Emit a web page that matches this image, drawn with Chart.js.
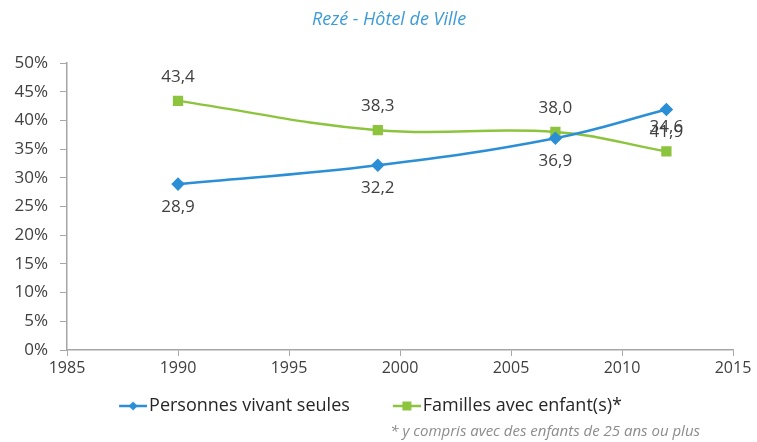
<!DOCTYPE html>
<html>
<head>
<meta charset="utf-8">
<script src="https://cdn.jsdelivr.net/npm/chart.js@4"></script>
<style>
  html, body { margin: 0; padding: 0; background: #fff; }
  #wrap { width: 757px; height: 442px; position: relative; }
</style>
</head>
<body>
<div id="wrap"><canvas id="chart"></canvas></div>
<script>
const years = [1990, 1999, 2007, 2012];
const seules = [28.9, 32.2, 36.9, 41.9];
const familles = [43.4, 38.3, 38.0, 34.6];
const seriesNames = ['Personnes vivant seules', 'Familles avec enfant(s)*'];
const chartTitle = 'Rezé - Hôtel de Ville';
const footnote = '* y compris avec des enfants de 25 ans ou plus';

const BLUE = '#2b8fd6';
const GREEN = '#8dc43e';
const FONT = "'Open Sans', sans-serif";
const LEGEND_BOX = 47;

// legend icon: line with the marker, blank on the left so items sit further apart
function legendIcon(color, shape) {
  const c = document.createElement('canvas');
  c.width = LEGEND_BOX + 14; c.height = 12;
  const ctx = c.getContext('2d');
  const x0 = c.width - 28;
  ctx.strokeStyle = color;
  ctx.lineWidth = 2.5;
  ctx.beginPath(); ctx.moveTo(x0, 6); ctx.lineTo(c.width, 6); ctx.stroke();
  ctx.fillStyle = color;
  ctx.beginPath();
  const cx = x0 + 14;
  if (shape === 'diamond') {
    ctx.moveTo(cx, 1.5); ctx.lineTo(cx + 4.5, 6); ctx.lineTo(cx, 10.5); ctx.lineTo(cx - 4.5, 6);
  } else {
    ctx.rect(cx - 4.5, 1.5, 9, 9);
  }
  ctx.closePath(); ctx.fill();
  return c;
}

const valueLabels = {
  id: 'valueLabels',
  afterDatasetsDraw(chart) {
    const ctx = chart.ctx;
    ctx.save();
    ctx.font = '17px ' + FONT;
    ctx.fillStyle = '#404040';
    ctx.textAlign = 'center';
    ctx.textBaseline = 'middle';
    chart.data.datasets.forEach((ds, i) => {
      const meta = chart.getDatasetMeta(i);
      meta.data.forEach((pt, j) => {
        const off = i === 0 ? 23 : -24;
        ctx.fillText(ds.data[j].y.toFixed(1).replace('.', ','), pt.x, pt.y + off);
      });
    });
    ctx.restore();
  }
};

const texts = {
  id: 'texts',
  afterLayout(chart) {
    // legend sits a little left of centre in the original
    chart.legend.left -= 9;
    chart.legend.right -= 9;
  },
  afterDraw(chart) {
    const ctx = chart.ctx;
    ctx.save();
    ctx.textBaseline = 'middle';
    ctx.font = 'italic 18px ' + FONT;
    ctx.fillStyle = '#3b9bd8';
    ctx.textAlign = 'center';
    ctx.fillText(chartTitle, 389, 20);
    ctx.font = 'italic 15px ' + FONT;
    ctx.fillStyle = '#8c8c8c';
    ctx.textAlign = 'right';
    ctx.fillText(footnote, 700, 432);
    ctx.restore();
  }
};

new Chart(document.getElementById('chart'), {
  type: 'line',
  data: {
    datasets: [
      {
        label: seriesNames[0],
        data: years.map((x, i) => ({x, y: seules[i]})),
        borderColor: BLUE,
        backgroundColor: BLUE,
        borderWidth: 2.5,
        tension: 0.4,
        pointStyle: 'rectRot',
        pointRadius: 5,
        pointHoverRadius: 5,
      },
      {
        label: seriesNames[1],
        data: years.map((x, i) => ({x, y: familles[i]})),
        borderColor: GREEN,
        backgroundColor: GREEN,
        borderWidth: 2.5,
        tension: 0.4,
        pointStyle: 'rect',
        pointRadius: 5.5,
        pointHoverRadius: 5.5,
      },
    ],
  },
  options: {
    responsive: true,
    maintainAspectRatio: false,
    animation: false,
    layout: { padding: { top: 63, right: 24, bottom: 17, left: 0 } },
    plugins: {
      tooltip: { enabled: false },
      legend: {
        position: 'bottom',
        labels: {
          usePointStyle: true,
          pointStyleWidth: LEGEND_BOX,
          padding: 17,
          color: '#262626',
          font: { family: FONT, size: 18 },
          generateLabels(chart) {
            return chart.data.datasets.map((ds, i) => ({
              text: ds.label,
              pointStyle: legendIcon(ds.borderColor, i === 0 ? 'diamond' : 'square'),
              fillStyle: ds.borderColor,
              strokeStyle: ds.borderColor,
              lineWidth: 0,
              fontColor: '#262626',
              datasetIndex: i,
            }));
          },
        },
      },
    },
    scales: {
      x: {
        type: 'linear',
        min: 1985,
        max: 2015,
        afterFit(scale) { scale.height = 30; },
        ticks: {
          stepSize: 5,
          padding: 3,
          color: '#404040',
          font: { family: FONT, size: 16 },
          callback: v => String(v),
        },
        grid: { drawOnChartArea: false, tickLength: 6, color: '#a6a6a6' },
        border: { color: '#a6a6a6', width: 1.5 },
      },
      y: {
        min: 0,
        max: 50,
        afterFit(scale) { scale.width = 67; },
        ticks: {
          stepSize: 5,
          padding: 12,
          color: '#404040',
          font: { family: FONT, size: 17 },
          callback: v => v + '%',
        },
        grid: { drawOnChartArea: false, tickLength: 7, color: '#a6a6a6' },
        border: { color: '#a6a6a6', width: 1.5 },
      },
    },
  },
  plugins: [valueLabels, texts],
});
</script>
</body>
</html>
